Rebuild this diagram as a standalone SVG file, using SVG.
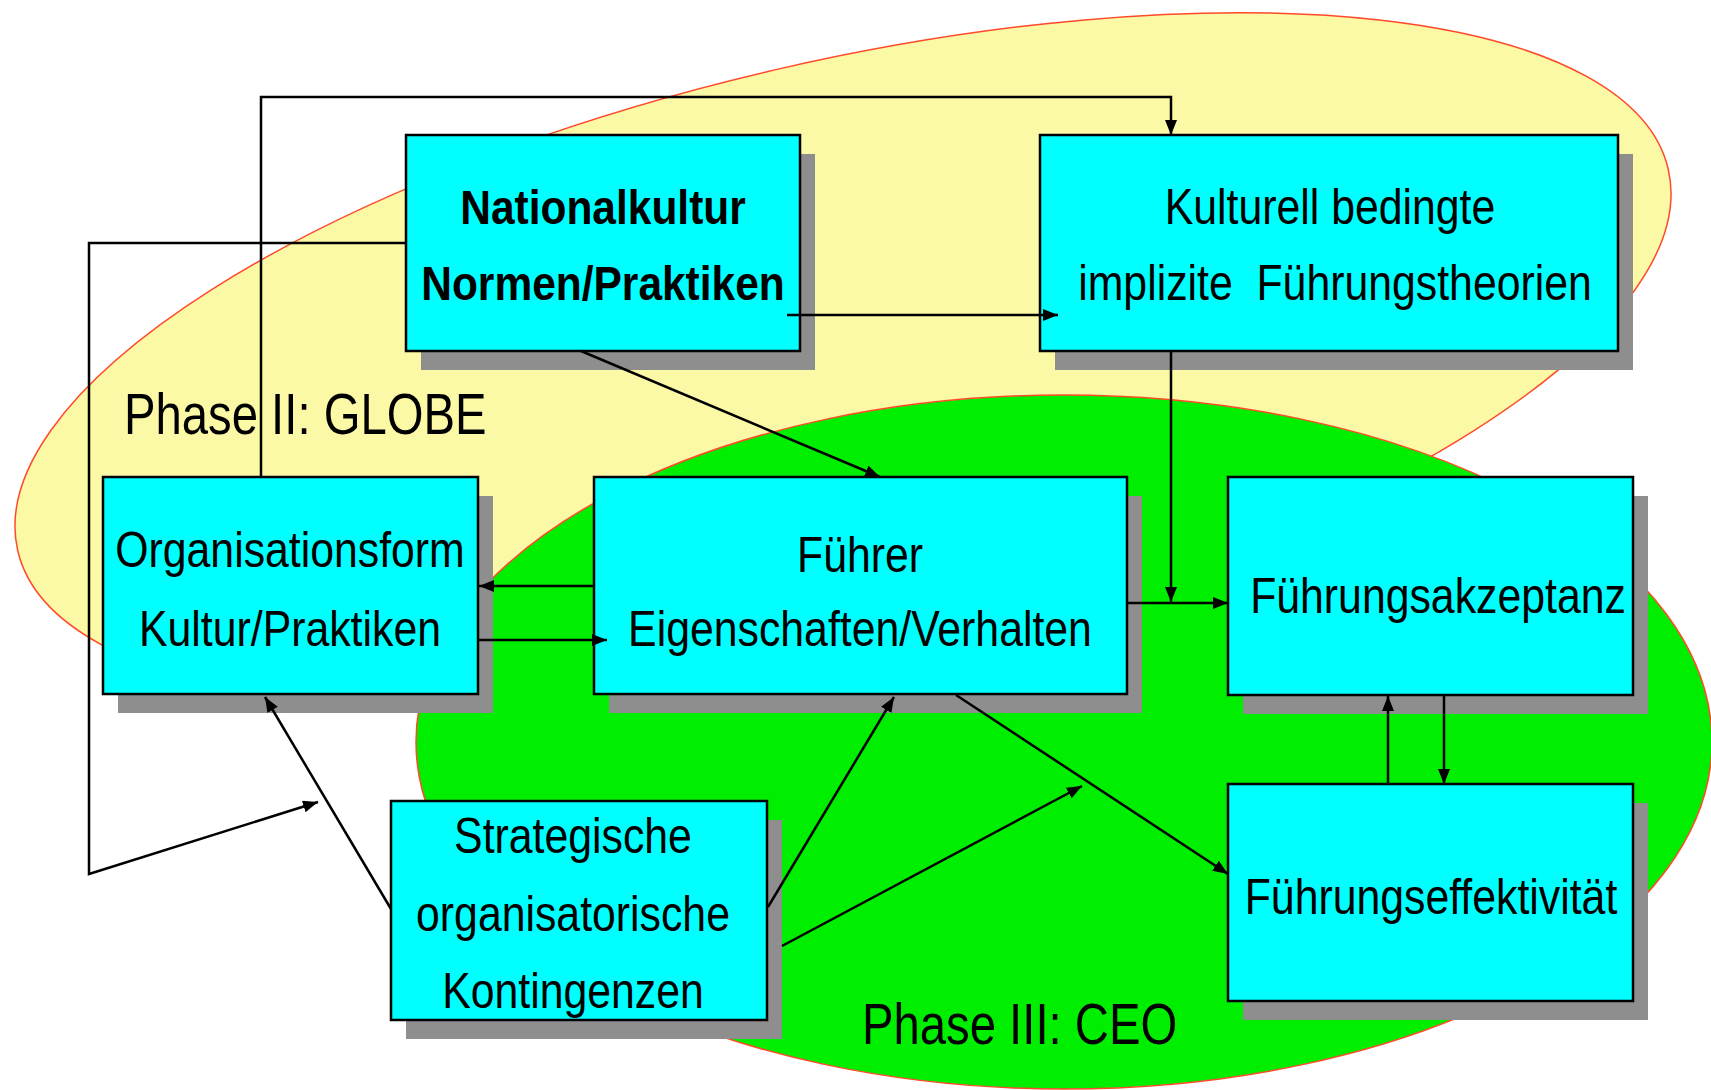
<svg xmlns="http://www.w3.org/2000/svg" width="1711" height="1090" viewBox="0 0 1711 1090">
<style>
.box{fill:#00ffff;stroke:#000;stroke-width:2.5}
.sh{fill:#8e8e8e}
.t{font-family:"Liberation Sans",Arial,sans-serif;font-size:50px;fill:#000;text-anchor:middle}
.b{font-weight:bold;font-size:48px}
.ph{font-family:"Liberation Sans",Arial,sans-serif;font-size:58px;fill:#000}
.c{fill:none;stroke:#000;stroke-width:2.5}
</style>
<defs>
<marker id="ah" markerUnits="userSpaceOnUse" markerWidth="16" markerHeight="12" refX="15" refY="6" orient="auto">
<path d="M0,0 L15,6 L0,12 z" fill="#000"/>
</marker>
</defs>
<rect width="1711" height="1090" fill="#fff"/>
<g id="phase2">
<ellipse cx="843" cy="360" rx="847" ry="298" transform="rotate(-13 843 360)" fill="#fbf8a6" stroke="#ff4a2a" stroke-width="1.5"/>
</g>
<g id="phase3">
<ellipse cx="1064" cy="742" rx="648" ry="347" fill="#00ee00" stroke="#ff4a2a" stroke-width="1.5"/>
</g>
<text class="ph" transform="translate(124,434) scale(0.815,1)">Phase II: GLOBE</text>
<text class="ph" transform="translate(862,1044) scale(0.815,1)">Phase III: CEO</text>
<g id="nationalkultur">
<rect class="sh" x="421" y="154" width="394" height="216"/>
<rect class="box" x="406" y="135" width="394" height="216"/>
<text class="t b" transform="translate(603,224) scale(0.885,1)">Nationalkultur</text>
<text class="t b" transform="translate(603,300) scale(0.885,1)">Normen/Praktiken</text>
</g>
<g id="kulturell">
<rect class="sh" x="1055" y="154" width="578" height="216"/>
<rect class="box" x="1040" y="135" width="578" height="216"/>
<text class="t" transform="translate(1330,224) scale(0.856,1)">Kulturell bedingte</text>
<text class="t" transform="translate(1335,300) scale(0.856,1)" xml:space="preserve">implizite  Führungstheorien</text>
</g>
<g id="organisationsform">
<rect class="sh" x="118" y="496" width="375" height="217"/>
<rect class="box" x="103" y="477" width="375" height="217"/>
<text class="t" transform="translate(290,567) scale(0.856,1)">Organisationsform</text>
<text class="t" transform="translate(290,646) scale(0.856,1)">Kultur/Praktiken</text>
</g>
<g id="fuehrer">
<rect class="sh" x="609" y="496" width="533" height="217"/>
<rect class="box" x="594" y="477" width="533" height="217"/>
<text class="t" transform="translate(860,572) scale(0.856,1)">Führer</text>
<text class="t" transform="translate(860,646) scale(0.856,1)">Eigenschaften/Verhalten</text>
</g>
<g id="akzeptanz">
<rect class="sh" x="1243" y="496" width="405" height="218"/>
<rect class="box" x="1228" y="477" width="405" height="218"/>
<text class="t" transform="translate(1438,613) scale(0.856,1)">Führungsakzeptanz</text>
</g>
<g id="effektivitaet">
<rect class="sh" x="1243" y="803" width="405" height="217"/>
<rect class="box" x="1228" y="784" width="405" height="217"/>
<text class="t" transform="translate(1431,914) scale(0.856,1)">Führungseffektivität</text>
</g>
<g id="strategische">
<rect class="sh" x="406" y="820" width="376" height="219"/>
<rect class="box" x="391" y="801" width="376" height="219"/>
<text class="t" transform="translate(573,853) scale(0.856,1)">Strategische</text>
<text class="t" transform="translate(573,931) scale(0.856,1)">organisatorische</text>
<text class="t" transform="translate(573,1008) scale(0.856,1)">Kontingenzen</text>
</g>
<g id="connectors">
<path class="c" d="M261,477 V97 H1171 V135" marker-end="url(#ah)"/>
<path class="c" d="M406,243 H89 V874 L318,802" marker-end="url(#ah)"/>
<path class="c" d="M787,315 H1058" marker-end="url(#ah)"/>
<path class="c" d="M581,351 L880,477" marker-end="url(#ah)"/>
<path class="c" d="M1171,351 V602" marker-end="url(#ah)"/>
<path class="c" d="M1127,603 H1228" marker-end="url(#ah)"/>
<path class="c" d="M594,586 H479" marker-end="url(#ah)" stroke-width="3"/>
<path class="c" d="M478,640 H607" marker-end="url(#ah)" stroke-width="3"/>
<path class="c" d="M391,909 L265,697" marker-end="url(#ah)"/>
<path class="c" d="M768,907 L894,697" marker-end="url(#ah)"/>
<path class="c" d="M782,946 L1082,786" marker-end="url(#ah)"/>
<path class="c" d="M956,695 L1228,874" marker-end="url(#ah)"/>
<path class="c" d="M1388,784 V696" marker-end="url(#ah)"/>
<path class="c" d="M1444,695 V784" marker-end="url(#ah)"/>
</g>
</svg>
